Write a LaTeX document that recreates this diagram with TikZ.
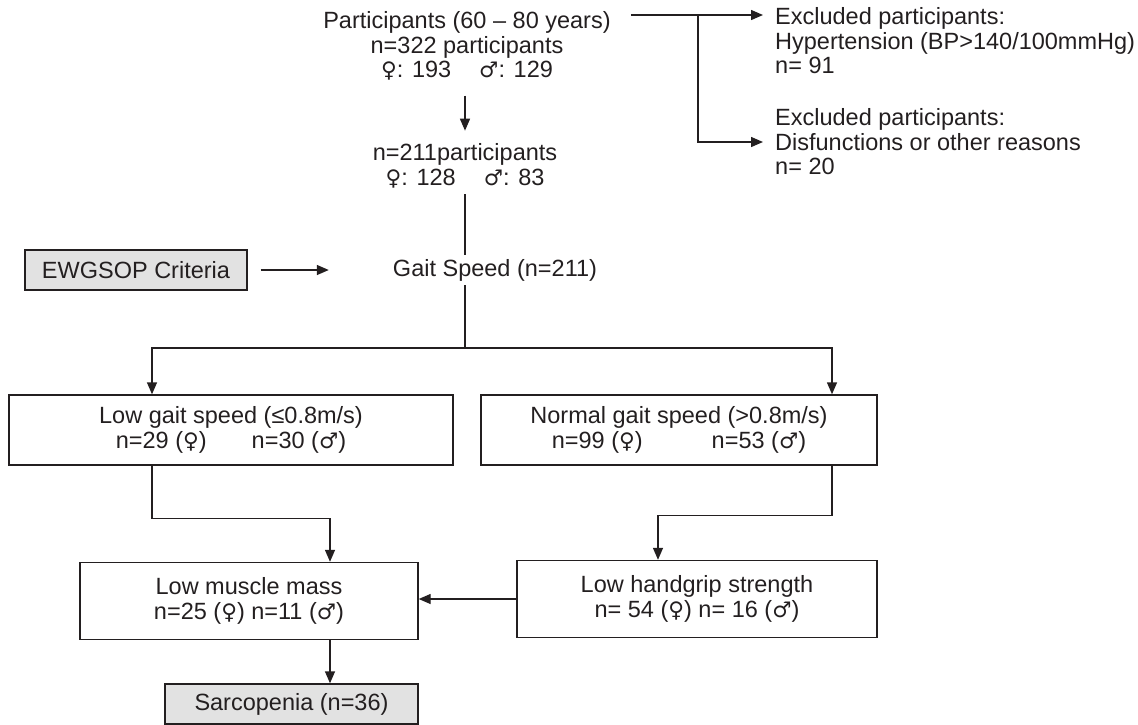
\documentclass[tikz,border=0pt]{standalone}
\usepackage{fontspec}
\setmainfont{Liberation Sans}
\newfontfamily\symfont{DejaVu Sans}
\newcommand{\fem}{{\symfont\fontsize{21.5}{24.5}\selectfont ♀}}
\newcommand{\mal}{{\symfont\fontsize{21.5}{24.5}\selectfont ♂}}
\usetikzlibrary{arrows.meta, positioning, calc}
\definecolor{flowgray}{HTML}{E2E2E2}
\definecolor{flowink}{HTML}{231F20}

\begin{document}
\begin{tikzpicture}[
    x=1pt, y=-1pt,
    every node/.style={font=\fontsize{23.5}{24.5}\selectfont, text=flowink},
    plain/.style={align=center, inner sep=2pt},
    note/.style={align=left, anchor=west, inner ysep=2pt, inner xsep=12pt},
    box/.style={draw=flowink, line width=1.4pt, align=center, inner sep=0pt},
    graybox/.style={box, fill=flowgray},
    connector/.style={-{Triangle[length=12pt, width=10pt]}, line width=1.4pt, flowink},
    link/.style={line width=1.4pt, flowink},
]
\useasboundingbox (0,0) rectangle (1138,724);

% Enrolment
\node[plain] (part) at (467,46) {Participants (60 -- 80 years)\\n=322 participants\\\fem: 193\hspace{28pt}\mal: 129};
\node[plain] (n211) at (465,166) {n=211participants\\\fem: 128\hspace{28pt}\mal: 83};
\node[plain] (gait) at (495,270) {Gait Speed (n=211)};

% Exclusions
\node[note] (excl1) at (763,41) {Excluded participants:\\Hypertension (BP>140/100mmHg)\\n= 91};
\node[note] (excl2) at (763,142) {Excluded participants:\\Disfunctions or other reasons\\n= 20};

% Criteria
\node[graybox, minimum width=222pt, minimum height=40pt] (ewg) at (136,270) {EWGSOP Criteria};

% Gait speed groups
\node[box, minimum width=444pt, minimum height=70pt] (lowgait) at (231,430) {Low gait speed (≤0.8m/s)\\n=29 (\fem)\hspace{45pt}n=30 (\mal)};
\node[box, minimum width=396pt, minimum height=70pt] (normgait) at (679,430) {Normal gait speed (>0.8m/s)\\n=99 (\fem)\hspace{69pt}n=53 (\mal)};

% Muscle and strength
\node[box, minimum width=338pt, minimum height=77pt] (muscle) at (249,601) {Low muscle mass\\n=25 (\fem) n=11 (\mal)};
\node[box, minimum width=360pt, minimum height=77pt] (grip) at (697,599) {Low handgrip strength\\n= 54 (\fem) n= 16 (\mal)};
\node[graybox, minimum width=253pt, minimum height=40pt] (sarco) at (291.5,704) {Sarcopenia (n=36)};

% Helper points
\coordinate (branch) at (698,15);
\coordinate (split) at (465,348);

% Arrows
\draw[link] ([xshift=18pt]part.east |- branch) -- (branch);
\draw[connector] (branch) -- (excl1.west |- branch);
\draw[connector] (branch) |- (excl2.west);
\draw[connector] ([yshift=-13pt]n211.north |- part.south) -- ([yshift=11pt]n211.north);
\draw[link] ([yshift=-4pt]n211.south) -- ([yshift=2pt]n211.south |- gait.north);
\draw[link] ([yshift=-2pt]gait.south -| split) -- (split);
\draw[connector] ([xshift=13pt]ewg.east) -- ([xshift=-62pt]gait.west);
\draw[connector] (split) -| ([xshift=-79pt]lowgait.north);
\draw[connector] (split) -| ([xshift=153pt]normgait.north);
\draw[connector] ([xshift=-79pt]lowgait.south) -- ++(0,53) -| ([xshift=81pt]muscle.north);
\draw[connector] ([xshift=153pt]normgait.south) -- ++(0,50) -| ([xshift=-39pt]grip.north);
\draw[connector] (grip.west) -- (grip.west -| muscle.east);
\draw[connector] ([xshift=81pt]muscle.south) -- ([xshift=81pt]muscle.south |- sarco.north);

\end{tikzpicture}
\end{document}
